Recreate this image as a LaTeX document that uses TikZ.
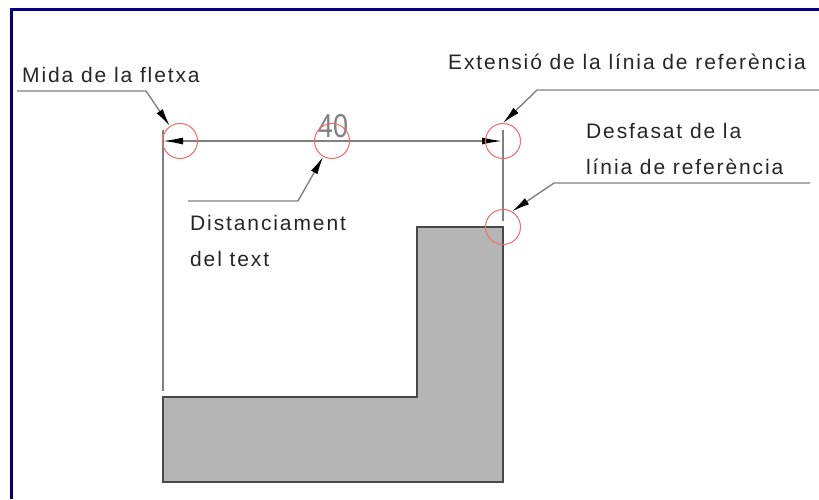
\documentclass[tikz,border=0pt]{standalone}
\usepackage{fontspec}
\setmainfont{Liberation Sans}
\newfontfamily\cadfont[LetterSpace=9]{Liberation Sans}
\usetikzlibrary{arrows.meta}
\definecolor{framecol}{HTML}{000080}
\definecolor{piececol}{HTML}{B5B5B5}
\definecolor{edgecol}{HTML}{484848}
\definecolor{thincol}{HTML}{808080}
\definecolor{markcol}{HTML}{F26A6A}
\tikzstyle{mark circle} = [draw=markcol, circle, inner sep=0pt, minimum size=35pt, line width=1pt]
\tikzstyle{leader} = [draw=thincol, line width=1.4pt, -{Latex[length=18pt, width=7.5pt, black]}]
\tikzstyle{label} = [inner sep=0pt, anchor=base west, font=\cadfont\fontsize{21pt}{23pt}\selectfont, text=black!85]
\tikzstyle{refline} = [draw=thincol, line width=1.2pt]
\begin{document}
\begin{tikzpicture}[x=1pt, y=-1pt]
	\useasboundingbox (0,0) rectangle (819,499);
	\fill[white] (0,0) rectangle (819,499);
	%marc
	\draw[framecol, line width=3pt] (11.5,499) -- (11.5,9.5) -- (819,9.5);
	
	%peça
	\draw[fill=piececol, draw=edgecol, line width=2.5pt] (163,397) -- (417,397) -- (417,227) -- (503,227) -- (503,482) -- (163,482) -- cycle;
	
	\coordinate (extL) at (163,130);
	\coordinate (extLend) at (163,391);
	\coordinate (extR) at (503,130);
	\coordinate (extRend) at (503,221);
	\coordinate (dimL) at (163,141);
	\coordinate (dimR) at (502,141);
	\draw [refline] (extL) -- (extLend);
	\draw [refline] (extR) -- (extRend);
	\draw [refline, {Latex[length=20pt, width=7pt, black]}-{Latex[length=20pt, width=7pt, black]}] (dimL) -- (dimR);
	
	\node (dimtext) at (333,126) [inner sep=0pt, xscale=0.82, font=\fontsize{33pt}{33pt}\selectfont, text=thincol] {40};
	
	\node (circA) [mark circle] at (180,141) {};
	\node (circB) [mark circle] at (332,141) {};
	\node (circC) [mark circle] at (503,141) {};
	\node (circD) [mark circle] at (503,227) {};
	
	%textos
	\node (txtA) [label] at (22,82) {Mida de la fletxa};
	\node (txtB) [label] at (448,69) {Extensió de la línia de referència};
	\node (txtC1) [label] at (586,138) {Desfasat de la};
	\node (txtC2) [label] at (586,174) {línia de referència};
	\node (txtD1) [label] at (190,230) {Distanciament};
	\node (txtD2) [label] at (190,266) {del text};
	
	%línies de crida
	\coordinate (leadA) at (17,91);
	\coordinate (kneeA) at (146,91);
	\draw [leader] (leadA) -- (kneeA) -- (circA);
	
	\coordinate (leadB) at (188,201);
	\coordinate (kneeB) at (298,201);
	\draw [leader] (leadB) -- (kneeB) -- (circB);
	
	\coordinate (leadC) at (819,90);
	\coordinate (kneeC) at (537,90);
	\draw [leader] (leadC) -- (kneeC) -- (circC.north);
	
	\coordinate (leadD) at (810,183);
	\coordinate (kneeD) at (554,183);
	\draw [leader] (leadD) -- (kneeD) -- (circD.60);
\end{tikzpicture}
\end{document}
